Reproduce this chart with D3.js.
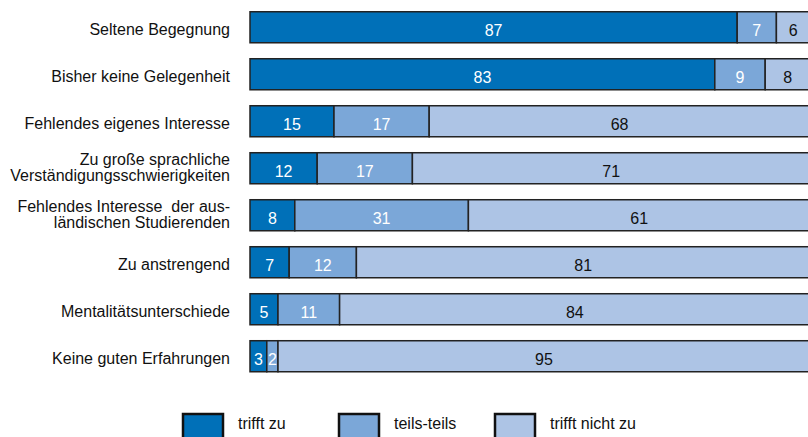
<!DOCTYPE html>
<html>
<head>
<meta charset="utf-8">
<script src="https://cdn.jsdelivr.net/npm/d3@7"></script>
<style>
  body { margin: 0; background: #fff; }
  text { font-family: "Liberation Sans", Arial, sans-serif; white-space: pre; }
</style>
</head>
<body>
<div id="chart"></div>
<script>
// categories (each may be split over two lines)
var categories = [
  ["Seltene Begegnung"],
  ["Bisher keine Gelegenheit"],
  ["Fehlendes eigenes Interesse"],
  ["Zu große sprachliche", "Verständigungsschwierigkeiten"],
  ["Fehlendes Interesse  der aus-", "ländischen Studierenden"],
  ["Zu anstrengend"],
  ["Mentalitätsunterschiede"],
  ["Keine guten Erfahrungen"]
];
var trifftZu = [87, 83, 15, 12, 8, 7, 5, 3];
var teilsTeils = [7, 9, 17, 17, 31, 12, 11, 2];
var trifftNicht = [6, 8, 68, 71, 61, 81, 84, 95];
var seriesNames = ["trifft zu", "teils-teils", "trifft nicht zu"];

var colors = ["#0070b8", "#7ba7d8", "#adc4e5"];
var textColors = ["#fff", "#fff", "#111"];

var width = 808, height = 437;
var fs = 16;

var svg = d3.select("#chart")
  .append("svg")
  .attr("width", width)
  .attr("height", height);

var x = d3.scaleLinear().domain([0, 100]).range([250, 810]);
var y = d3.scaleBand()
  .domain(d3.range(categories.length))
  .range([0, 383.5])
  .paddingInner(0.34)
  .paddingOuter(0.25);

// build stacked rows
var rows = categories.map(function(c, i) {
  return {i: i, vals: [trifftZu[i], teilsTeils[i], trifftNicht[i]]};
});

var stack = [];
rows.forEach(function(r) {
  var acc = 0;
  r.vals.forEach(function(v, k) {
    stack.push({row: r.i, k: k, v: v, x0: acc, x1: acc + v});
    acc += v;
  });
});

svg.selectAll("rect.seg")
  .data(stack)
  .enter()
  .append("rect")
    .attr("class", "seg")
    .attr("x", function(d) { return x(d.x0); })
    .attr("y", function(d) { return y(d.row); })
    .attr("width", function(d) { return x(d.x1) - x(d.x0); })
    .attr("height", y.bandwidth())
    .attr("fill", function(d) { return colors[d.k]; })
    .attr("stroke", "#222")
    .attr("stroke-width", 1.5);

svg.selectAll("text.val")
  .data(stack)
  .enter()
  .append("text")
    .attr("class", "val")
    .attr("x", function(d) { return (x(d.x0) + x(d.x1)) / 2; })
    .attr("y", function(d) { return y(d.row) + y.bandwidth() / 2 + 8.5; })
    .attr("text-anchor", "middle")
    .attr("font-size", fs)
    .attr("fill", function(d) { return textColors[d.k]; })
    .text(function(d) { return d.v; });

// category labels
var lab = svg.selectAll("text.cat")
  .data(categories)
  .enter()
  .append("text")
    .attr("class", "cat")
    .attr("text-anchor", "end")
    .attr("font-size", fs)
    .attr("fill", "#111")
    .attr("x", 230)
    .attr("y", function(d, i) {
      var mid = y(i) + y.bandwidth() / 2 + 7.5;
      return d.length > 1 ? mid - 11 : mid;
    });

lab.selectAll("tspan")
  .data(function(d) { return d; })
  .enter()
  .append("tspan")
    .attr("x", 230)
    .attr("dy", function(d, j) { return j == 0 ? 0 : 16.7; })
    .text(function(d) { return d; });

// legend
var legX = [183, 339, 495];
var leg = svg.selectAll("g.leg")
  .data(seriesNames)
  .enter()
  .append("g")
    .attr("class", "leg")
    .attr("transform", function(d, i) { return "translate(" + legX[i] + ",414)"; });

leg.append("rect")
  .attr("width", 40)
  .attr("height", 26)
  .attr("fill", function(d, i) { return colors[i]; })
  .attr("stroke", "#111")
  .attr("stroke-width", 2.5);

leg.append("text")
  .attr("x", 55)
  .attr("y", 14.5)
  .attr("font-size", fs)
  .attr("fill", "#111")
  .text(function(d) { return d; });
</script>
</body>
</html>
